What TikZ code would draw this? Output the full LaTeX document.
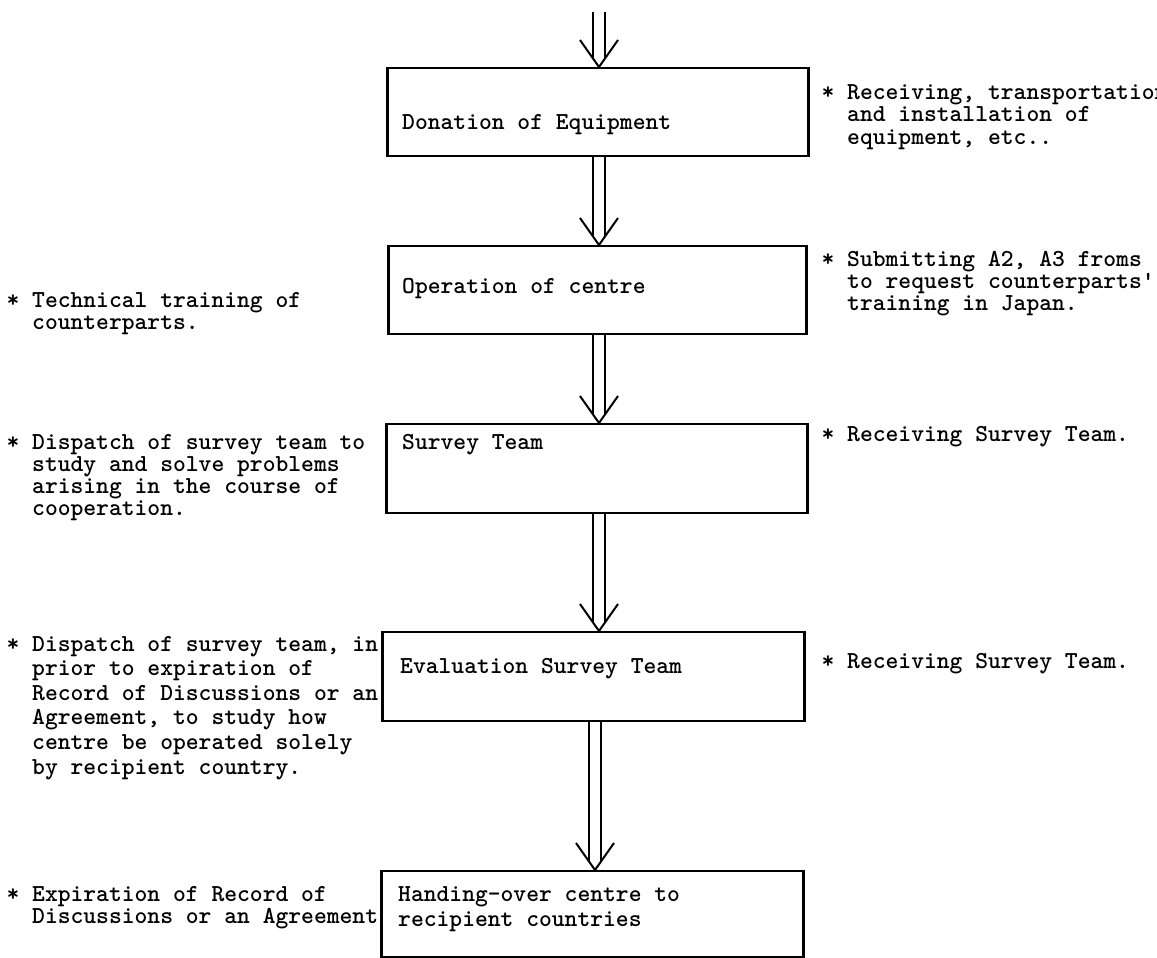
\documentclass[tikz,border=0pt]{standalone}
\usetikzlibrary{calc}
\newcommand\typewr{\ttfamily\bfseries\fontsize{24.4bp}{22bp}\selectfont}
\newcommand\bullstar{\llap{*\ }}
% a block of typed lines with a fixed line pitch; its baseline is that of the first line
\newcommand\typedlines[2]{\vtop{\baselineskip=#1\lineskiplimit=-\maxdimen\lineskip=0pt
  \halign{##\hfil\cr#2\crcr}}}
\newcommand\flowarrow[2]{%
  \draw[shaft] ([xshift=-6bp]#1) -- ([xshift=-6bp,yshift=8bp]#2);
  \draw[shaft] ([xshift=6bp]#1) -- ([xshift=6bp,yshift=8bp]#2);
  \draw[arm] ([xshift=-19bp,yshift=27bp]#2) -- (#2) -- ([xshift=19bp,yshift=27bp]#2);}
\begin{document}
\begin{tikzpicture}[x=1bp,y=-1bp,
  box/.style={draw=black, line width=1.5bp, inner sep=0pt, anchor=north west},
  side/.style={line width=2.6bp},
  shaft/.style={line width=2.2bp},
  arm/.style={line width=2bp, line join=miter},
  note/.style={anchor=base west, inner sep=0pt, font=\typewr}]
\fill[white] (0,0) rectangle (1157,958);
\useasboundingbox (0,0) rectangle (1157,958);

% process boxes
\node[box, minimum width=420bp, minimum height=88bp] (b1) at (387,67) {};
\node[box, minimum width=417bp, minimum height=88bp] (b2) at (388,245) {};
\node[box, minimum width=420bp, minimum height=89bp] (b3) at (386,423) {};
\node[box, minimum width=421bp, minimum height=89bp] (b4) at (382,631) {};
\node[box, minimum width=421bp, minimum height=86bp] (b5) at (381,870) {};
\foreach \b in {b1,b2,b3,b4,b5}
  \draw[side] (\b.north west) -- (\b.south west) (\b.north east) -- (\b.south east);

% box captions
\node[note] (t1) at (402,129) {Donation of Equipment};
\node[note] (t2) at (402,293) {Operation of centre};
\node[note] (t3) at (402,449) {Survey Team};
\node[note] (t4) at (400,673) {Evaluation Survey Team};
\node[note] (t5) at (398,901) {\typedlines{25bp}{Handing-over centre to\cr recipient countries}};

% flow arrows
\coordinate (x1) at (599,0);
\coordinate (x2) at (595,0);
\coordinate (s0) at (599,12);
\coordinate (e0) at (b1.north -| x1);
\coordinate (s1) at (b1.south -| x1);
\coordinate (e1) at (b2.north -| x1);
\coordinate (s2) at (b2.south -| x1);
\coordinate (e2) at (b3.north -| x1);
\coordinate (s3) at (b3.south -| x1);
\coordinate (e3) at (b4.north -| x1);
\coordinate (s4) at (b4.south -| x2);
\coordinate (e4) at (b5.north -| x2);
\flowarrow{s0}{e0}
\flowarrow{s1}{e1}
\flowarrow{s2}{e2}
\flowarrow{s3}{e3}
\flowarrow{s4}{e4}

% notes on the right
\node[note] (n1) at (847,99) {\typedlines{22.5bp}{\bullstar Receiving, transportation\cr and installation of\cr equipment, etc..}};
\node[note] (n2) at (847,266) {\typedlines{22bp}{\bullstar Submitting A2, A3 froms\cr to request counterparts\textquotesingle\cr training in Japan.}};
\node[note] (n3) at (847,441) {\bullstar Receiving Survey Team.};
\node[note] (n4) at (847,668) {\bullstar Receiving Survey Team.};

% notes on the left
\node[note] (m1) at (32,307) {\typedlines{22bp}{\bullstar Technical training of\cr counterparts.}};
\node[note] (m2) at (32,449) {\typedlines{22bp}{\bullstar Dispatch of survey team to\cr study and solve problems\cr arising in the course of\cr cooperation.}};
\node[note] (m3) at (32,651) {\typedlines{24.6bp}{\bullstar Dispatch of survey team, in\cr prior to expiration of\cr Record of Discussions or an\cr Agreement, to study how\cr centre be operated solely\cr by recipient country.}};
\node[note] (m4) at (32,901) {\typedlines{22bp}{\bullstar Expiration of Record of\cr Discussions or an Agreement}};
\end{tikzpicture}
\end{document}
